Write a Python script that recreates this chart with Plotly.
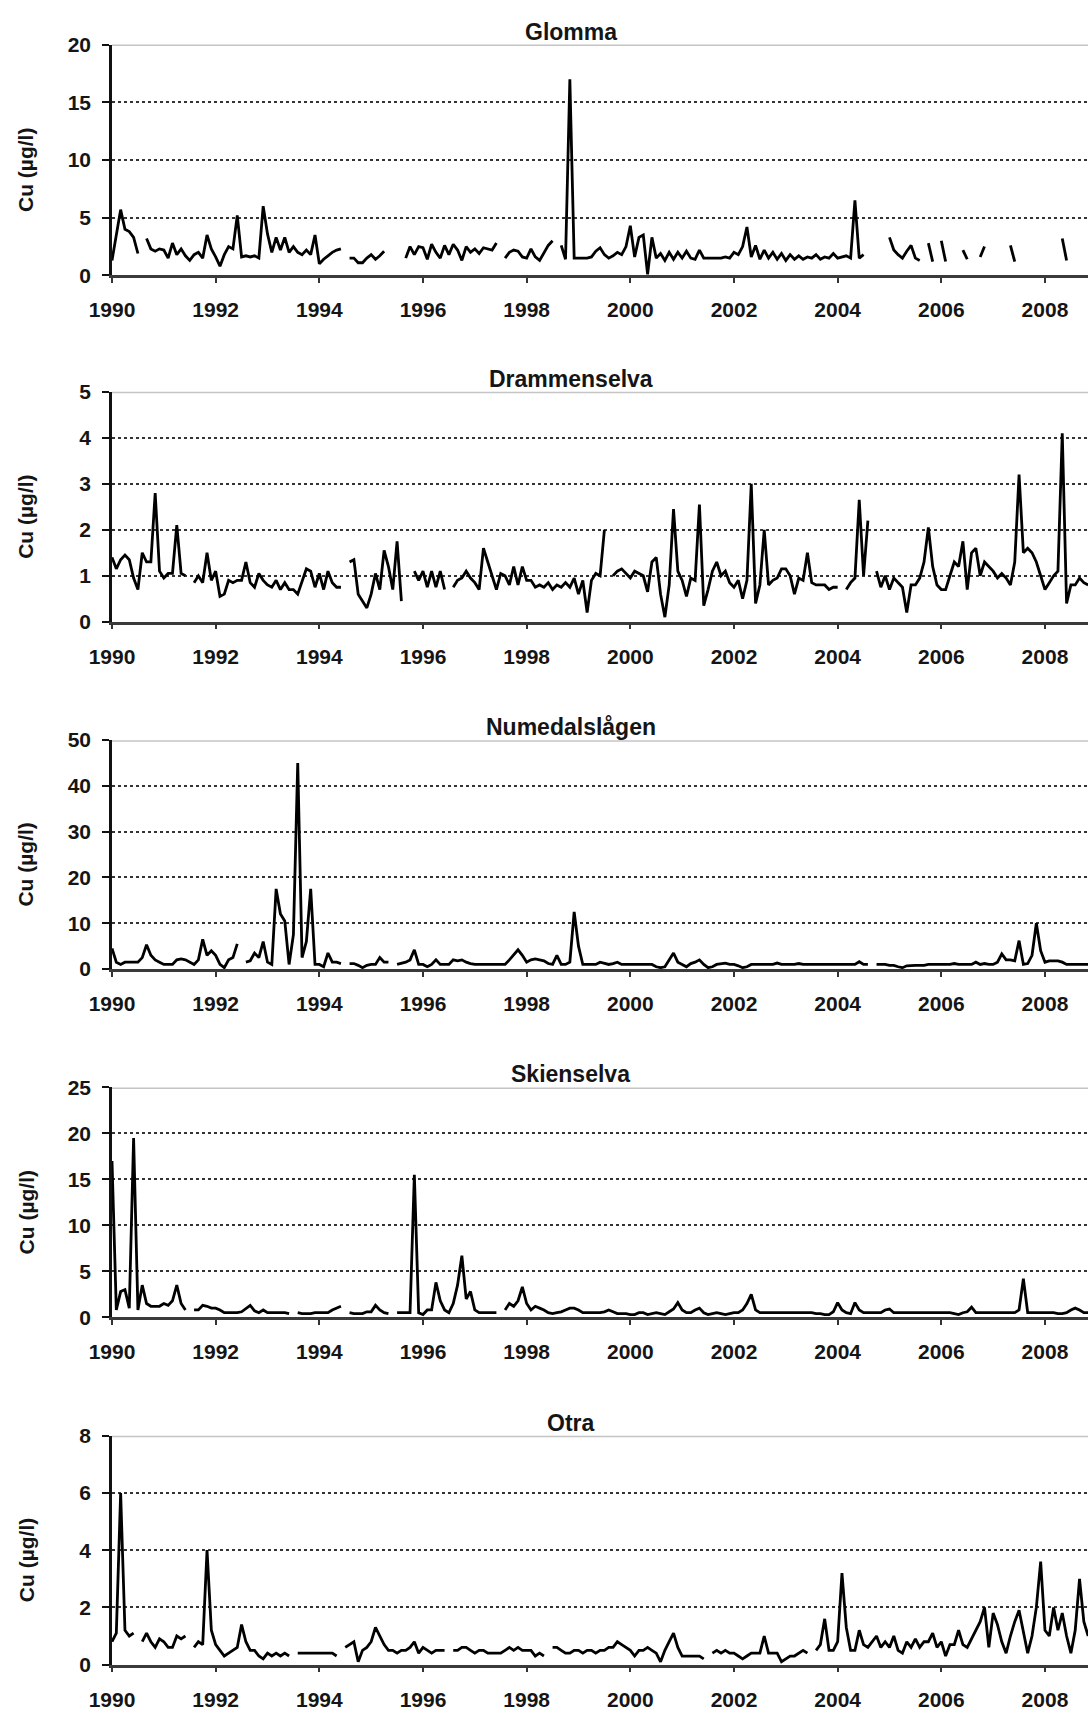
import plotly.graph_objects as go

# ---------------- data (monthly samples, Jan 1990 onwards; None = no sample) ----------------
START_YEAR = 1990
RIVERS = ["Glomma", "Drammenselva", "Numedalslågen", "Skienselva", "Otra"]
Y_MAX = [20, 5, 50, 25, 8]
Y_STEP = [5, 1, 10, 5, 2]
X_TICKS = [1990, 1992, 1994, 1996, 1998, 2000, 2002, 2004, 2006, 2008]
X_TICK_LABELS = ["1990", "1992", "1994", "1996", "1998", "2000", "2002", "2004", "2006", "2008"]
Y_TITLE = "Cu (µg/l)"

GLOMMA = [
    1.3, 3.5, 5.7, 4.0, 3.8, 3.3, 1.9, None, 3.2, 2.3, 2.1, 2.3,      # 1990
    2.2, 1.5, 2.8, 1.8, 2.3, 1.7, 1.3, 1.8, 2.0, 1.5, 3.5, 2.3,       # 1991
    1.6, 0.8, 1.8, 2.5, 2.3, 5.2, 1.6, 1.7, 1.6, 1.7, 1.5, 6.0,       # 1992
    3.6, 2.0, 3.3, 2.2, 3.3, 2.0, 2.5, 2.0, 1.8, 2.2, 1.8, 3.5,       # 1993
    1.0, 1.4, 1.7, 2.0, 2.2, 2.3, None, 1.5, 1.5, 1.1, 1.1, 1.5,      # 1994
    1.8, 1.4, 1.7, 2.1, None, None, None, None, 1.5, 2.5, 1.8, 2.5,   # 1995
    2.4, 1.4, 2.7, 2.0, 1.5, 2.6, 1.8, 2.7, 2.2, 1.3, 2.5, 2.0,       # 1996
    2.3, 1.9, 2.4, 2.3, 2.2, 2.8, None, 1.5, 2.0, 2.2, 2.1, 1.6,      # 1997
    1.5, 2.3, 1.6, 1.3, 2.0, 2.6, 3.0, None, 2.6, 1.4, 17.0, 1.5,     # 1998
    1.5, 1.5, 1.5, 1.6, 2.1, 2.4, 1.8, 1.5, 1.7, 2.0, 1.8, 2.5,       # 1999
    4.3, 1.6, 3.3, 3.5, 0.1, 3.3, 1.5, 1.9, 1.3, 2.0, 1.4, 2.0,       # 2000
    1.5, 2.1, 1.5, 1.4, 2.2, 1.5, 1.5, 1.5, 1.5, 1.5, 1.6, 1.5,       # 2001
    2.0, 1.8, 2.5, 4.2, 1.6, 2.6, 1.4, 2.2, 1.5, 2.0, 1.4, 1.9,       # 2002
    1.3, 1.8, 1.4, 1.7, 1.4, 1.6, 1.5, 1.8, 1.4, 1.6, 1.5, 1.9,       # 2003
    1.5, 1.6, 1.7, 1.5, 6.5, 1.5, 1.8, None, None, None, None, None,  # 2004
    3.3, 2.2, 1.8, 1.5, 2.1, 2.6, 1.5, 1.3, None, 2.8, 1.2, None,     # 2005
    3.0, 1.2, None, None, None, 2.2, 1.4, None, None, 1.6, 2.5, None, # 2006
    None, None, None, None, 2.6, 1.2, None, None, None, None, None, None,  # 2007
    None, None, None, None, 3.2, 1.3, None, None, None, None, None,   # 2008
]

DRAMMENSELVA = [
    1.4, 1.15, 1.35, 1.45, 1.35, 0.95, 0.7, 1.5, 1.3, 1.3, 2.8, 1.1,      # 1990
    0.95, 1.05, 1.05, 2.1, 1.05, 1.0, None, 0.85, 1.0, 0.85, 1.5, 0.9,    # 1991
    1.1, 0.55, 0.6, 0.9, 0.85, 0.9, 0.9, 1.3, 0.85, 0.75, 1.05, 0.9,      # 1992
    0.8, 0.75, 0.9, 0.7, 0.85, 0.7, 0.7, 0.6, 0.9, 1.15, 1.1, 0.75,       # 1993
    1.05, 0.7, 1.1, 0.85, 0.75, 0.75, None, 1.3, 1.35, 0.6, 0.45, 0.3,    # 1994
    0.6, 1.05, 0.7, 1.55, 1.2, 0.7, 1.75, 0.45, None, None, 1.1, 0.9,     # 1995
    1.1, 0.75, 1.1, 0.75, 1.1, 0.7, None, 0.75, 0.9, 0.95, 1.1, 0.95,     # 1996
    0.85, 0.7, 1.6, 1.3, 1.0, 0.7, 1.05, 1.0, 0.8, 1.2, 0.8, 1.2,         # 1997
    0.9, 0.9, 0.75, 0.8, 0.75, 0.85, 0.7, 0.8, 0.75, 0.85, 0.75, 0.95,    # 1998
    0.6, 0.9, 0.2, 0.9, 1.05, 1.0, 2.0, None, 1.0, 1.1, 1.15, 1.05,       # 1999
    0.95, 1.1, 1.05, 1.0, 0.65, 1.3, 1.4, 0.6, 0.1, 0.8, 2.45, 1.1,       # 2000
    0.9, 0.55, 0.95, 0.9, 2.55, 0.35, 0.7, 1.1, 1.3, 1.0, 1.1, 0.85,      # 2001
    0.75, 0.9, 0.5, 0.9, 3.0, 0.4, 0.8, 2.0, 0.8, 0.9, 0.95, 1.15,        # 2002
    1.15, 1.0, 0.6, 0.95, 0.9, 1.5, 0.85, 0.8, 0.8, 0.8, 0.7, 0.75,       # 2003
    0.75, None, 0.7, 0.85, 0.95, 2.65, 1.0, 2.2, None, 1.1, 0.75, 1.0,    # 2004
    0.7, 0.95, 0.85, 0.75, 0.2, 0.8, 0.8, 0.95, 1.3, 2.05, 1.2, 0.8,      # 2005
    0.7, 0.7, 1.0, 1.3, 1.2, 1.75, 0.7, 1.5, 1.6, 1.0, 1.3, 1.2,          # 2006
    1.1, 0.95, 1.05, 0.95, 0.8, 1.3, 3.2, 1.5, 1.6, 1.5, 1.3, 1.0,        # 2007
    0.7, 0.85, 1.0, 1.1, 4.1, 0.4, 0.8, 0.8, 0.95, 0.85, 0.8,             # 2008
]

NUMEDALSLAGEN = [
    4.5, 1.5, 1.0, 1.5, 1.5, 1.5, 1.5, 2.5, 5.3, 3.0, 2.0, 1.5,        # 1990
    1.0, 1.0, 1.0, 2.0, 2.2, 2.0, 1.5, 1.0, 2.0, 6.5, 3.0, 4.0,        # 1991
    3.0, 1.0, 0.3, 2.0, 2.5, 5.5, None, 1.5, 1.8, 3.5, 2.5, 6.0,       # 1992
    1.5, 1.0, 17.5, 12.0, 10.5, 1.0, 7.5, 45.0, 2.5, 6.0, 17.5, 1.0,   # 1993
    1.0, 0.5, 3.5, 1.5, 1.5, 1.2, None, 1.2, 1.2, 0.8, 0.3, 0.8,       # 1994
    1.0, 1.0, 2.5, 1.5, 1.5, None, 1.0, 1.2, 1.5, 2.0, 4.2, 1.0,       # 1995
    1.0, 0.5, 1.0, 2.0, 1.0, 1.0, 1.0, 2.0, 1.8, 2.0, 1.5, 1.2,        # 1996
    1.0, 1.0, 1.0, 1.0, 1.0, 1.0, 1.0, 1.0, 2.0, 3.2, 4.2, 3.0,        # 1997
    1.5, 2.0, 2.2, 2.0, 1.8, 1.2, 1.0, 3.0, 1.0, 1.0, 1.5, 12.5,       # 1998
    5.0, 1.0, 1.0, 1.0, 1.0, 1.5, 1.2, 1.0, 1.2, 1.5, 1.0, 1.0,        # 1999
    1.0, 1.0, 1.0, 1.0, 1.0, 1.0, 0.5, 0.3, 0.5, 2.0, 3.5, 1.5,        # 2000
    1.0, 0.5, 1.2, 1.5, 2.0, 1.0, 0.3, 0.5, 1.0, 1.2, 1.3, 1.0,        # 2001
    1.0, 0.7, 0.3, 0.5, 1.0, 1.0, 1.0, 1.0, 1.0, 1.0, 1.3, 1.0,        # 2002
    1.0, 1.0, 1.0, 1.2, 1.0, 1.0, 1.0, 1.0, 1.0, 1.0, 1.0, 1.0,        # 2003
    1.0, 1.0, 1.0, 1.0, 1.0, 1.6, 1.0, 1.0, None, 1.0, 1.0, 1.0,       # 2004
    0.8, 0.8, 0.5, 0.3, 0.7, 0.8, 0.8, 0.8, 0.8, 1.0, 1.0, 1.0,        # 2005
    1.0, 1.0, 1.0, 1.2, 1.0, 1.0, 1.0, 1.0, 1.5, 1.0, 1.2, 1.0,        # 2006
    1.0, 1.5, 3.3, 2.0, 2.0, 1.8, 6.2, 1.0, 1.2, 3.0, 10.0, 4.0,       # 2007
    1.5, 1.8, 1.8, 1.8, 1.5, 1.0, 1.0, 1.0, 1.0, 1.0, 1.0,             # 2008
]

SKIENSELVA = [
    17.0, 0.8, 2.8, 3.0, 1.0, 19.5, 0.8, 3.5, 1.5, 1.2, 1.2, 1.2,      # 1990
    1.5, 1.3, 1.8, 3.5, 1.5, 0.8, None, 0.8, 0.8, 1.3, 1.2, 1.0,       # 1991
    1.0, 0.8, 0.5, 0.5, 0.5, 0.5, 0.6, 1.0, 1.3, 0.7, 0.5, 0.8,        # 1992
    0.5, 0.5, 0.5, 0.5, 0.5, 0.4, None, 0.5, 0.4, 0.4, 0.4, 0.5,       # 1993
    0.5, 0.5, 0.5, 0.8, 1.0, 1.2, None, 0.5, 0.4, 0.4, 0.4, 0.6,       # 1994
    0.6, 1.3, 0.8, 0.5, 0.4, None, 0.5, 0.5, 0.5, 0.5, 15.5, 0.5,      # 1995
    0.3, 0.8, 0.8, 3.8, 1.8, 0.8, 0.5, 1.5, 3.5, 6.7, 2.0, 2.8,        # 1996
    0.8, 0.5, 0.5, 0.5, 0.5, 0.5, None, 0.8, 1.5, 1.2, 1.8, 3.3,       # 1997
    1.5, 0.8, 1.2, 1.0, 0.8, 0.5, 0.4, 0.5, 0.6, 0.8, 1.0, 1.0,        # 1998
    0.8, 0.5, 0.5, 0.5, 0.5, 0.5, 0.6, 0.8, 0.6, 0.4, 0.4, 0.4,        # 1999
    0.3, 0.3, 0.5, 0.5, 0.3, 0.4, 0.5, 0.4, 0.3, 0.6, 0.9, 1.6,        # 2000
    0.8, 0.5, 0.5, 0.8, 1.0, 0.5, 0.3, 0.4, 0.5, 0.4, 0.3, 0.4,        # 2001
    0.5, 0.5, 0.8, 1.5, 2.5, 0.8, 0.5, 0.5, 0.5, 0.5, 0.5, 0.5,        # 2002
    0.5, 0.5, 0.5, 0.5, 0.5, 0.5, 0.5, 0.4, 0.4, 0.3, 0.3, 0.6,        # 2003
    1.6, 0.8, 0.5, 0.4, 1.6, 0.8, 0.5, 0.5, 0.5, 0.5, 0.5, 0.8,        # 2004
    0.9, 0.5, 0.5, 0.5, 0.5, 0.5, 0.5, 0.5, 0.5, 0.5, 0.5, 0.5,        # 2005
    0.5, 0.5, 0.5, 0.4, 0.3, 0.5, 0.6, 1.1, 0.5, 0.5, 0.5, 0.5,        # 2006
    0.5, 0.5, 0.5, 0.5, 0.5, 0.5, 0.8, 4.2, 0.5, 0.5, 0.5, 0.5,        # 2007
    0.5, 0.5, 0.5, 0.4, 0.4, 0.5, 0.8, 1.0, 0.8, 0.5, 0.5,             # 2008
]

OTRA = [
    0.8, 1.1, 6.0, 1.2, 1.0, 1.1, None, 0.8, 1.1, 0.8, 0.6, 0.9,       # 1990
    0.8, 0.6, 0.6, 1.0, 0.9, 1.0, None, 0.6, 0.8, 0.7, 4.0, 1.2,       # 1991
    0.7, 0.5, 0.3, 0.4, 0.5, 0.6, 1.4, 0.8, 0.5, 0.5, 0.3, 0.2,        # 1992
    0.4, 0.3, 0.4, 0.3, 0.4, 0.3, None, 0.4, 0.4, 0.4, 0.4, 0.4,       # 1993
    0.4, 0.4, 0.4, 0.4, 0.3, None, 0.6, 0.7, 0.8, 0.1, 0.5, 0.6,       # 1994
    0.8, 1.3, 1.0, 0.7, 0.5, 0.5, 0.4, 0.5, 0.5, 0.6, 0.8, 0.4,        # 1995
    0.6, 0.5, 0.4, 0.5, 0.5, 0.5, None, 0.5, 0.5, 0.6, 0.6, 0.5,       # 1996
    0.4, 0.5, 0.5, 0.4, 0.4, 0.4, 0.4, 0.5, 0.6, 0.5, 0.6, 0.5,        # 1997
    0.5, 0.5, 0.3, 0.4, 0.3, None, 0.6, 0.6, 0.5, 0.4, 0.4, 0.5,       # 1998
    0.5, 0.4, 0.5, 0.5, 0.4, 0.5, 0.5, 0.6, 0.6, 0.8, 0.7, 0.6,        # 1999
    0.5, 0.3, 0.5, 0.5, 0.6, 0.5, 0.4, 0.1, 0.5, 0.8, 1.1, 0.6,        # 2000
    0.3, 0.3, 0.3, 0.3, 0.3, 0.2, None, 0.4, 0.5, 0.4, 0.5, 0.4,       # 2001
    0.4, 0.3, 0.2, 0.3, 0.4, 0.4, 0.4, 1.0, 0.4, 0.4, 0.4, 0.1,        # 2002
    0.2, 0.3, 0.3, 0.4, 0.5, 0.4, None, 0.5, 0.7, 1.6, 0.5, 0.5,       # 2003
    0.8, 3.2, 1.3, 0.5, 0.5, 1.2, 0.7, 0.6, 0.8, 1.0, 0.6, 0.8,        # 2004
    0.6, 1.0, 0.5, 0.4, 0.8, 0.6, 0.9, 0.6, 0.8, 0.8, 1.1, 0.6,        # 2005
    0.8, 0.3, 0.7, 0.7, 1.2, 0.7, 0.6, 0.9, 1.2, 1.5, 2.0, 0.6,        # 2006
    1.8, 1.4, 0.8, 0.4, 1.0, 1.5, 1.9, 1.2, 0.4, 1.0, 2.0, 3.6,        # 2007
    1.2, 1.0, 2.0, 1.2, 1.8, 1.0, 0.4, 1.2, 3.0, 1.5, 1.0,             # 2008
]

SERIES = [GLOMMA, DRAMMENSELVA, NUMEDALSLAGEN, SKIENSELVA, OTRA]

# ---------------- layout constants (pixels) ----------------
W, H = 1088, 1721
PLOT_LEFT = 112
PANEL_TOP = [33, 385, 738, 1090, 1443]
PANEL_BOTTOM = [267, 618, 970, 1323, 1675]
X_END = 2008.83
FONT = "Liberation Sans, Arial, sans-serif"
TXT = "#151515"

fig = go.Figure()
shapes, annotations = [], []

for i, (name, vals) in enumerate(zip(RIVERS, SERIES)):
    n = "" if i == 0 else str(i + 1)
    xa, ya = "x" + n, "y" + n
    xs = [START_YEAR + k / 12 for k in range(len(vals))]
    fig.add_trace(go.Scatter(
        x=xs, y=vals, mode="lines", connectgaps=False,
        line=dict(color="#000000", width=2.8),
        xaxis=xa, yaxis=ya, showlegend=False, hoverinfo="skip"))

    dom = [1 - PANEL_BOTTOM[i] / H, 1 - PANEL_TOP[i] / H]
    fig.layout["xaxis" + n] = dict(
        domain=[0, 1], range=[START_YEAR, X_END], anchor=ya,
        tickmode="array", tickvals=X_TICKS, ticktext=X_TICK_LABELS,
        ticks="outside", ticklen=5, tickwidth=2, tickcolor="#333333",
        showline=True, linecolor="#3a3a3a", linewidth=2.5,
        showgrid=False, zeroline=False, fixedrange=True,
        tickfont=dict(family=FONT, size=21, color=TXT, weight="bold"), ticklabelstandoff=9)
    fig.layout["yaxis" + n] = dict(
        domain=dom, range=[0, Y_MAX[i]], anchor=xa,
        tick0=0, dtick=Y_STEP[i],
        ticks="outside", ticklen=7, tickwidth=2, tickcolor="#111111",
        showline=True, linecolor="#111111", linewidth=2.5,
        showgrid=True, gridcolor="#333333", gridwidth=1.6, griddash="dot",
        zeroline=False, fixedrange=True,
        tickfont=dict(family=FONT, size=21, color=TXT, weight="bold"), ticklabelstandoff=7)

    # light solid line at the top of each plot area
    shapes.append(dict(type="line", xref=xa + " domain", x0=0, x1=1,
                       yref=ya, y0=Y_MAX[i], y1=Y_MAX[i],
                       line=dict(color="#c4c4c4", width=3), layer="above"))

    annotations.append(dict(text="<b>" + name + "</b>", xref=xa + " domain", x=0.47,
                            yref=ya + " domain", y=1, yshift=13,
                            xanchor="center", yanchor="middle", showarrow=False,
                            font=dict(family=FONT, size=23, color=TXT)))
    annotations.append(dict(text="<b>" + Y_TITLE + "</b>", xref=xa + " domain",
                            x=(26 - PLOT_LEFT) / (W - PLOT_LEFT),
                            yref=ya + " domain", y=0.5, yshift=-10, textangle=-90,
                            xanchor="center", yanchor="middle", showarrow=False,
                            font=dict(family=FONT, size=21, color=TXT)))

fig.update_layout(
    width=W, height=H, autosize=False,
    margin=dict(l=PLOT_LEFT, r=0, t=0, b=0, pad=0),
    paper_bgcolor="white", plot_bgcolor="white",
    shapes=shapes, annotations=annotations, hovermode=False,
    font=dict(family=FONT, color=TXT))

fig.write_html("out.html", config={"displayModeBar": False},
               post_script="document.body.style.margin='0';document.body.style.overflow='hidden';")
